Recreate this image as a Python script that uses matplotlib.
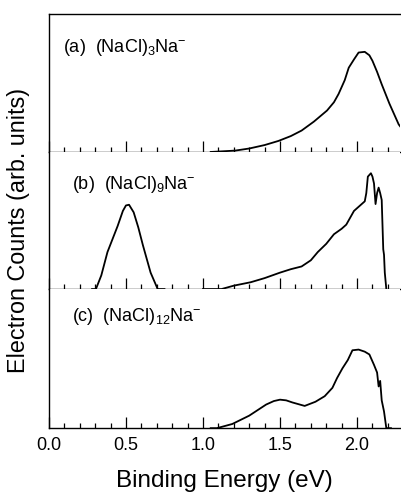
import numpy as np
import matplotlib
matplotlib.use("Agg")
import matplotlib.pyplot as plt
from matplotlib.ticker import MultipleLocator

plt.rcParams['font.family'] = ['Liberation Sans', 'DejaVu Sans']
plt.rcParams['mathtext.fontset'] = 'custom'
plt.rcParams['mathtext.rm'] = 'Liberation Sans'
plt.rcParams['mathtext.it'] = 'Liberation Sans:italic'

# (a) (NaCl)3Na-
e_a = [1.05, 1.10, 1.21, 1.30, 1.40, 1.49, 1.57, 1.64, 1.72, 1.805, 1.85, 1.88, 1.92,
       1.946, 1.98, 2.01, 2.05, 2.08, 2.10, 2.13, 2.16, 2.21, 2.25, 2.27, 2.29]
i_a = [0.0, 0.003, 0.01, 0.025, 0.05, 0.08, 0.115, 0.155, 0.22, 0.30, 0.36, 0.42, 0.52,
       0.61, 0.67, 0.72, 0.725, 0.70, 0.66, 0.58, 0.49, 0.35, 0.25, 0.20, 0.17]

# (b) (NaCl)9Na-
e_b1 = [0.28, 0.305, 0.34, 0.38, 0.446, 0.48, 0.50, 0.52, 0.55, 0.58, 0.61, 0.66, 0.706, 0.75]
i_b1 = [0.0, 0.0, 0.10, 0.27, 0.46, 0.57, 0.61, 0.615, 0.56, 0.45, 0.32, 0.12, 0.0, 0.0]
e_b2 = [1.00, 1.12, 1.20, 1.31, 1.40, 1.50, 1.57, 1.64, 1.70, 1.745, 1.80, 1.85, 1.90, 1.93,
        1.98, 2.02, 2.05, 2.06, 2.07, 2.09, 2.10, 2.11, 2.12, 2.13, 2.14, 2.15, 2.16, 2.17,
        2.175, 2.18, 2.19]
i_b2 = [0.0, 0.0, 0.025, 0.05, 0.08, 0.12, 0.145, 0.165, 0.21, 0.27, 0.33, 0.40, 0.44, 0.47,
        0.57, 0.61, 0.64, 0.70, 0.82, 0.845, 0.82, 0.77, 0.62, 0.70, 0.74, 0.70, 0.65, 0.29,
        0.25, 0.12, 0.0]

# (c) (NaCl)12Na-
e_c = [1.05, 1.09, 1.19, 1.30, 1.41, 1.46, 1.50, 1.54, 1.58, 1.66, 1.73, 1.79, 1.84, 1.87,
       1.905, 1.94, 1.97, 2.01, 2.05, 2.08, 2.11, 2.13, 2.14, 2.15, 2.16, 2.175, 2.19, 2.22]
i_c = [0.0, 0.0, 0.03, 0.09, 0.17, 0.195, 0.205, 0.20, 0.185, 0.16, 0.19, 0.23, 0.29, 0.36,
       0.43, 0.49, 0.56, 0.565, 0.55, 0.53, 0.455, 0.40, 0.30, 0.34, 0.20, 0.12, 0.0, 0.0]

labels = [r'(a)  (NaCl)$_3$Na$^{-}$', r'(b)  (NaCl)$_9$Na$^{-}$', r'(c)  (NaCl)$_{12}$Na$^{-}$']
label_pos = [(0.04, 0.76), (0.065, 0.76), (0.065, 0.80)]

fig = plt.figure(figsize=(4.01, 4.95), dpi=100)
bounds = [0.972, 0.693, 0.416, 0.135]
axes = []
for k in range(3):
    ax = fig.add_axes([0.122, bounds[k + 1], 0.876, bounds[k] - bounds[k + 1]])
    axes.append(ax)

axes[0].plot(e_a, i_a, color='black', lw=1.3)
axes[1].plot(e_b1, i_b1, color='black', lw=1.3)
axes[1].plot(e_b2, i_b2, color='black', lw=1.3)
axes[2].plot(e_c, i_c, color='black', lw=1.3)

for k, ax in enumerate(axes):
    ax.set_xlim(0, 2.28)
    ax.set_ylim(0, 1)
    ax.spines['right'].set_visible(False)
    if k > 0:
        ax.spines['top'].set_visible(False)
    for s in ax.spines.values():
        s.set_linewidth(1.0)
    ax.set_yticks([])
    ax.xaxis.set_major_locator(MultipleLocator(0.5))
    ax.xaxis.set_minor_locator(MultipleLocator(0.1))
    ax.tick_params(axis='x', which='major', direction='in', length=8, width=0.9,
                   labelsize=13, pad=6)
    ax.tick_params(axis='x', which='minor', direction='in', length=3.8, width=0.9)
    if k < 2:
        ax.tick_params(axis='x', which='both', labelbottom=False)
    ax.text(label_pos[k][0], label_pos[k][1], labels[k], transform=ax.transAxes,
            fontsize=13, va='center', ha='left')

axes[2].set_xlabel('Binding Energy (eV)', fontsize=17.5, labelpad=12)
fig.text(0.045, 0.535, 'Electron Counts (arb. units)', rotation=90, fontsize=16.8,
         va='center', ha='center')

fig.savefig('out.png', dpi=100)
